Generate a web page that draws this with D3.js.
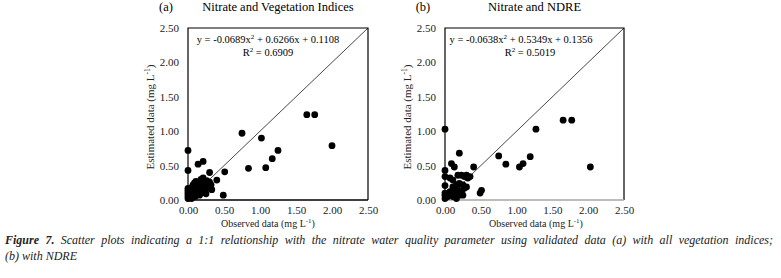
<!DOCTYPE html>
<html>
<head>
<meta charset="utf-8">
<script src="https://cdn.jsdelivr.net/npm/d3@7"></script>
<style>
  body { margin: 0; background: #fff; }
  svg { display: block; font-family: "Liberation Serif", "Times New Roman", serif; }
</style>
</head>
<body>
<svg id="chart" width="781" height="278"></svg>
<script>
// axis ticks shared by both panels
const ticks = [0, 0.5, 1, 1.5, 2, 2.5];

// panel (a): nitrate, all vegetation indices
const obsA = [1.65, 1.76, 2.00, 0.75, 1.02, 1.25, 1.17, 1.08, 0.84, 0.51, 0.49,
  0.00, 0.00, 0.14, 0.21, 0.30, 0.40, 0.33,
  0.00, 0.00, 0.00, 0.00, 0.00, 0.00, 0.01, 0.02, 0.03, 0.04, 0.05, 0.05, 0.06, 0.07,
  0.08, 0.09, 0.10, 0.10, 0.11, 0.12, 0.13, 0.14, 0.15, 0.16, 0.17, 0.18, 0.19, 0.20,
  0.21, 0.22, 0.23, 0.24, 0.25, 0.26, 0.27, 0.28, 0.30, 0.32];
const estA = [1.24, 1.24, 0.79, 0.97, 0.90, 0.72, 0.60, 0.47, 0.46, 0.41, 0.07,
  0.72, 0.43, 0.52, 0.56, 0.40, 0.29, 0.15,
  0.02, 0.05, 0.08, 0.11, 0.14, 0.17, 0.03, 0.10, 0.06, 0.13, 0.02, 0.18, 0.08, 0.22,
  0.12, 0.25, 0.05, 0.16, 0.27, 0.09, 0.20, 0.14, 0.24, 0.07, 0.18, 0.30, 0.11, 0.22,
  0.32, 0.15, 0.26, 0.20, 0.09, 0.28, 0.17, 0.24, 0.26, 0.22];

// panel (b): nitrate, NDRE
const obsB = [1.65, 1.77, 2.03, 1.27, 0.75, 0.85, 1.19, 1.09, 1.04, 0.00, 0.20,
  0.09, 0.13, 0.40, 0.00, 0.51, 0.49,
  0.00, 0.00, 0.00, 0.00, 0.00,
  0.07, 0.11, 0.18, 0.23, 0.27, 0.32, 0.11, 0.16, 0.20, 0.25, 0.30, 0.07, 0.14, 0.18,
  0.23, 0.27, 0.04, 0.11, 0.16, 0.20, 0.25, 0.30, 0.35];
const estB = [1.16, 1.16, 0.48, 1.03, 0.64, 0.52, 0.63, 0.53, 0.48, 1.03, 0.68,
  0.53, 0.48, 0.48, 0.43, 0.14, 0.10,
  0.34, 0.21, 0.07, 0.02, 0.10,
  0.32, 0.29, 0.36, 0.36, 0.34, 0.32, 0.19, 0.22, 0.24, 0.22, 0.19, 0.12, 0.12, 0.15,
  0.12, 0.17, 0.05, 0.05, 0.02, 0.07, 0.07, 0.36, 0.34];

const panels = [
  { tag: "(a)", title: "Nitrate and Vegetation Indices", obs: obsA, est: estA,
    eq: ["-0.0689", "0.6266", "0.1108"], r2: "0.6909",
    x0: 188, x1: 368, eqX: 268, r2X: 268, tagX: 166, xTitleX: 268, yTitleX: 150, bottomColor: "#000" },
  { tag: "(b)", title: "Nitrate and NDRE", obs: obsB, est: estB,
    eq: ["-0.0638", "0.5349", "0.1356"], r2: "0.5019",
    x0: 445, x1: 624, eqX: 521, r2X: 530, tagX: 423, xTitleX: 536, yTitleX: 407, bottomColor: "#a6a6a6" }
];

const svg = d3.select("#chart");
const plotTop = 28, plotBottom = 200;

// strip d3's default axis styling so the serif font applies
function plainAxis(a) {
  a.attr("font-family", null).attr("font-size", 11);
  a.select(".domain").remove();
  a.selectAll("text").attr("fill", "#222");
}

panels.forEach(p => {
  const x = d3.scaleLinear().domain([0, 2.5]).range([p.x0, p.x1]);
  const y = d3.scaleLinear().domain([0, 2.5]).range([plotBottom, plotTop]);
  const g = svg.append("g");

  g.append("g")
    .attr("transform", `translate(0,${plotBottom})`)
    .call(d3.axisBottom(x).tickValues(ticks).tickFormat(d3.format(".2f")).tickSize(0).tickPadding(6))
    .call(plainAxis);
  g.append("g")
    .attr("transform", `translate(${p.x0},0)`)
    .call(d3.axisLeft(y).tickValues(ticks).tickFormat(d3.format(".2f")).tickSize(0).tickPadding(9))
    .call(plainAxis);

  // 1:1 line
  g.append("line")
    .attr("x1", x(0)).attr("y1", y(0)).attr("x2", x(2.5)).attr("y2", y(2.5))
    .attr("stroke", "#333").attr("stroke-width", 0.9);

  // frame
  g.append("path")
    .attr("d", `M${p.x0},${plotBottom}V${plotTop}H${p.x1}V${plotBottom}`)
    .attr("fill", "none").attr("stroke", "#000").attr("stroke-width", 1.2);
  g.append("line")
    .attr("x1", p.x0).attr("x2", p.x1).attr("y1", plotBottom).attr("y2", plotBottom)
    .attr("stroke", p.bottomColor).attr("stroke-width", 1.5);

  // points
  g.selectAll("circle")
    .data(p.obs.map((v, i) => [v, p.est[i]]))
    .join("circle")
    .attr("cx", d => x(d[0]))
    .attr("cy", d => y(d[1]))
    .attr("r", 3.4)
    .attr("fill", "#000");

  // trendline label
  const eq = g.append("text").attr("x", p.eqX).attr("y", 43)
    .attr("text-anchor", "middle").attr("font-size", 10.5);
  eq.append("tspan").text(`y = ${p.eq[0]}x`);
  eq.append("tspan").attr("font-size", 7).attr("dy", -4).text("2");
  eq.append("tspan").attr("dy", 4).text(` + ${p.eq[1]}x + ${p.eq[2]}`);
  const r2 = g.append("text").attr("x", p.r2X).attr("y", 56)
    .attr("text-anchor", "middle").attr("font-size", 10.5);
  r2.append("tspan").text("R");
  r2.append("tspan").attr("font-size", 7).attr("dy", -4).text("2");
  r2.append("tspan").attr("dy", 4).text(` = ${p.r2}`);

  // titles
  g.append("text").attr("x", p.tagX).attr("y", 11).attr("text-anchor", "middle")
    .attr("font-size", 12.5).text(p.tag);
  g.append("text").attr("x", (p.x0 + p.x1) / 2).attr("y", 11).attr("text-anchor", "middle")
    .attr("font-size", 12.5).text(p.title);

  const xt = g.append("text").attr("x", p.xTitleX).attr("y", 227)
    .attr("text-anchor", "middle").attr("font-size", 10).attr("fill", "#222");
  xt.append("tspan").text("Observed data (mg L");
  xt.append("tspan").attr("font-size", 7).attr("dy", -4).text("-1");
  xt.append("tspan").attr("dy", 4).text(")");

  const yt = g.append("text")
    .attr("transform", `translate(${p.yTitleX + 4},${(plotTop + plotBottom) / 2 + 3}) rotate(-90)`)
    .attr("text-anchor", "middle").attr("font-size", 11).attr("fill", "#222");
  yt.append("tspan").text("Estimated data (mg L");
  yt.append("tspan").attr("font-size", 7.5).attr("dy", -4).text("-1");
  yt.append("tspan").attr("dy", 4).text(")");
});

// figure caption, first line justified
const cap1 = svg.append("text").attr("x", 5).attr("y", 244)
  .attr("font-size", 12).attr("font-style", "italic").attr("fill", "#222");
cap1.append("tspan").attr("font-weight", "bold").text("Figure 7.");
cap1.append("tspan").text(" Scatter plots indicating a 1:1 relationship with the nitrate water quality parameter using validated data (a) with all vegetation indices;");
const natural = cap1.node().getComputedTextLength();
const spaces = (cap1.text().match(/ /g) || []).length;
cap1.attr("word-spacing", Math.max(0, (773 - 5 - natural) / spaces));

svg.append("text").attr("x", 5).attr("y", 260)
  .attr("font-size", 12).attr("font-style", "italic").attr("fill", "#222")
  .text("(b) with NDRE");
</script>
</body>
</html>
